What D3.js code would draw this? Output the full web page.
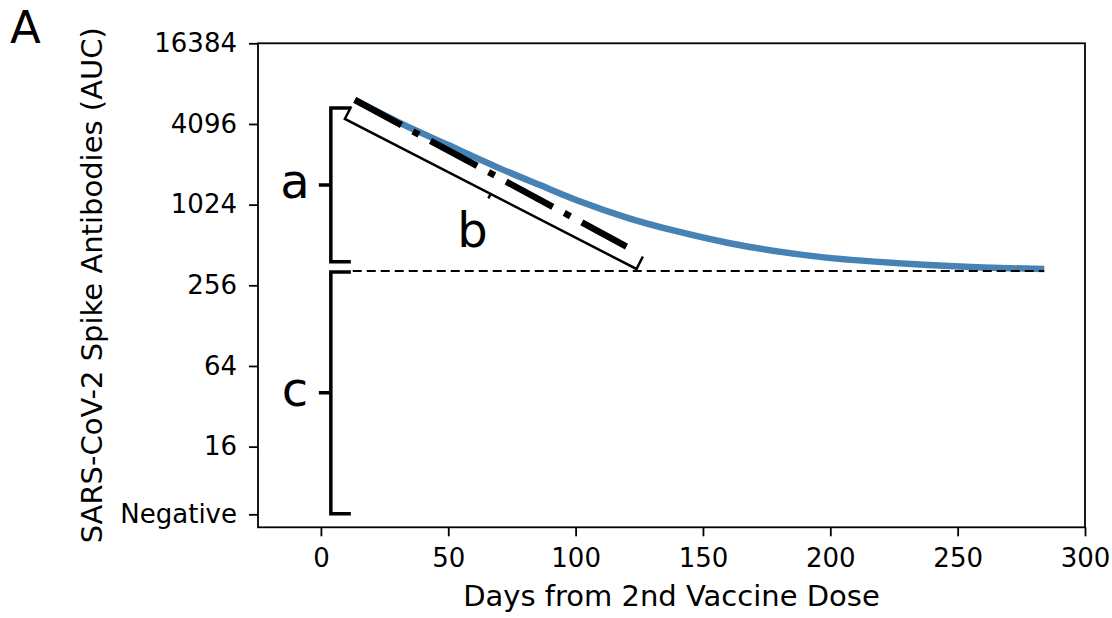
<!DOCTYPE html>
<html>
<head>
<script src="https://d3js.org/d3.v7.min.js"></script>
<title>Spike antibody decay</title>
<style>
  body { margin: 0; background: #fff; }
  text { font-family: "DejaVu Sans", sans-serif; fill: #000; }
</style>
</head>
<body>
<svg width="1112" height="618"></svg>
<script>
// values
var days = [13.3, 32, 50, 70, 86, 101, 121, 140, 160, 195, 235, 260, 284];
var auc  = [6186, 4080, 2850, 1918, 1432, 1095, 810, 646, 530, 419, 366, 348, 338];

var plateauDays = [12.5, 284];
var plateauAuc  = [328, 328];

var slopeDays = [13.3, 120];
var slopeAuc  = [6186, 498];

var xTicks = [0, 50, 100, 150, 200, 250, 300];
var yTicks = [16384, 4096, 1024, 256, 64, 16, 5];
var yTickLabels = ["16384", "4096", "1024", "256", "64", "16", "Negative"];

// brackets (day, AUC)
var bracketADays = [3.9, 3.9];
var bracketAAuc  = [5393, 383];
var bracketCDays = [3.9, 3.9];
var bracketCAuc  = [322, 5.05];
var bracketBDays = [9.4, 123.9];
var bracketBAuc  = [4464, 339];

var svg = d3.select("svg");
var plotLeft = 258, plotRight = 1085, plotTop = 43.3, plotBottom = 527.3;

var x = d3.scaleLinear().domain([-24.7, 300]).range([plotLeft, plotRight]);
var y = d3.scaleLog().base(2).domain([4, 16384]).range([plotBottom, plotTop]);

// axes
var xAxis = d3.axisBottom(x).tickValues(xTicks).tickSize(9).tickPadding(12).tickSizeOuter(0);
var yAxis = d3.axisLeft(y).tickValues(yTicks).tickSize(9).tickPadding(12).tickSizeOuter(0)
  .tickFormat((d, i) => yTickLabels[i]);

var gx = svg.append("g").attr("transform", `translate(0,${plotBottom})`).call(xAxis);
var gy = svg.append("g").attr("transform", `translate(${plotLeft},0)`).call(yAxis);
[gx, gy].forEach(g => {
  g.select(".domain").remove();
  g.selectAll(".tick line").attr("stroke", "#000").attr("stroke-width", 1.8);
  g.selectAll(".tick text").style("font-size", "26px").attr("fill", "#000");
});

svg.append("rect")
  .attr("x", plotLeft).attr("y", plotTop)
  .attr("width", plotRight - plotLeft).attr("height", plotBottom - plotTop)
  .attr("fill", "none").attr("stroke", "#000").attr("stroke-width", 1.8);

// curve
var pts = days.map((d, i) => [d, auc[i]]);
var line = d3.line().x(d => x(d[0])).y(d => y(d[1]));

svg.append("path")
  .attr("d", line.curve(d3.curveMonotoneX)(pts))
  .attr("fill", "none")
  .attr("stroke", "#4682b4")
  .attr("stroke-width", 6.5);

line.curve(d3.curveLinear);

svg.append("path")
  .attr("d", line(plateauDays.map((d, i) => [d, plateauAuc[i]])))
  .attr("fill", "none")
  .attr("stroke", "#000")
  .attr("stroke-width", 2)
  .attr("stroke-dasharray", "9,5");

svg.append("path")
  .attr("d", line(slopeDays.map((d, i) => [d, slopeAuc[i]])))
  .attr("fill", "none")
  .attr("stroke", "#000")
  .attr("stroke-width", 6.5)
  .attr("stroke-dasharray", "53,13,7,13");

// vertical brackets a and c
function vBracket(ds, vs, label) {
  var bx = x(ds[0]), y0 = y(vs[0]), y1 = y(vs[1]), ym = (y0 + y1) / 2;
  svg.append("path")
    .attr("d", `M${bx + 20},${y0}H${bx}V${y1}H${bx + 20}M${bx},${ym}H${bx - 12}`)
    .attr("fill", "none").attr("stroke", "#000").attr("stroke-width", 3.5);
  svg.append("text")
    .attr("x", bx - 36).attr("y", ym).attr("dy", "0.28em")
    .style("text-anchor", "middle").style("font-size", "48px")
    .text(label);
}
vBracket(bracketADays, bracketAAuc, "a");
vBracket(bracketCDays, bracketCAuc, "c");

// slanted bracket b
var p0 = [x(bracketBDays[0]), y(bracketBAuc[0])];
var p1 = [x(bracketBDays[1]), y(bracketBAuc[1])];
var len = Math.hypot(p1[0] - p0[0], p1[1] - p0[1]);
var u = [(p1[0] - p0[0]) / len, (p1[1] - p0[1]) / len];
var n = [u[1], -u[0]];
var pm = [(p0[0] + p1[0]) / 2, (p0[1] + p1[1]) / 2];
svg.append("path")
  .attr("d", `M${p0[0] + 14 * n[0]},${p0[1] + 14 * n[1]}L${p0[0]},${p0[1]}L${p1[0]},${p1[1]}L${p1[0] + 14 * n[0]},${p1[1] + 14 * n[1]}` +
             `M${pm[0]},${pm[1]}L${pm[0] - 5 * n[0]},${pm[1] - 5 * n[1]}`)
  .attr("fill", "none").attr("stroke", "#000").attr("stroke-width", 2.5);
svg.append("text")
  .attr("x", pm[0] - 40 * n[0]).attr("y", pm[1] - 40 * n[1]).attr("dy", "0.36em")
  .style("text-anchor", "middle").style("font-size", "48px")
  .text("b");

// labels
svg.append("text")
  .attr("x", (plotLeft + plotRight) / 2).attr("y", 606)
  .style("text-anchor", "middle").style("font-size", "29px")
  .text("Days from 2nd Vaccine Dose");

svg.append("text")
  .attr("transform", `translate(102,${(plotTop + plotBottom) / 2}) rotate(-90)`)
  .style("text-anchor", "middle").style("font-size", "29px")
  .text("SARS-CoV-2 Spike Antibodies (AUC)");

svg.append("text")
  .attr("x", 10).attr("y", 43)
  .style("font-size", "45px")
  .text("A");
</script>
</body>
</html>
